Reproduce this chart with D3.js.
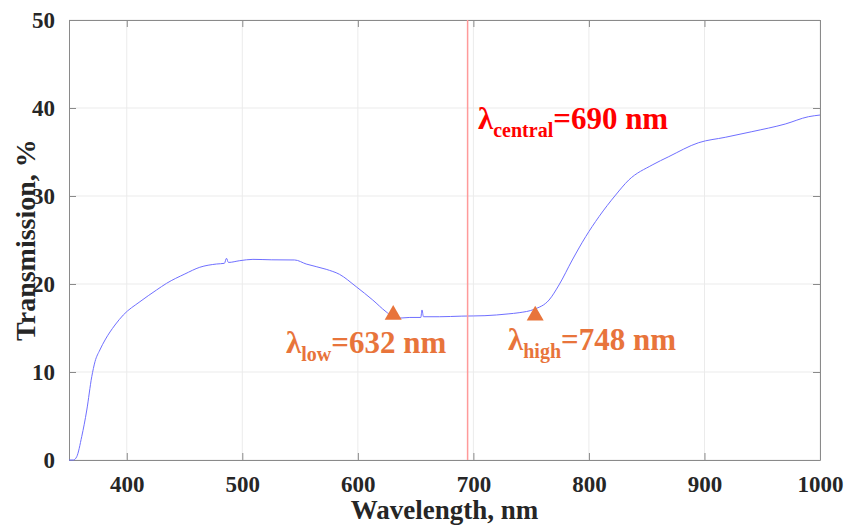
<!DOCTYPE html>
<html>
<head>
<meta charset="utf-8">
<script src="https://cdn.jsdelivr.net/npm/d3@7"></script>
<style>
  body { margin: 0; background: #fff; }
  svg { display: block; }
  text { font-family: 'Liberation Serif', 'Times New Roman', serif; font-weight: bold; }
</style>
</head>
<body>
<svg id="chart"></svg>
<script>
// spectrum
const wavelength = [350, 353.8, 356.7, 361, 365.4, 369.7, 372.5, 376.7, 381.2, 389.8, 397, 411.4, 425.8, 434.5,
  450.3, 463.2, 477.6, 484.5, 486.3, 488, 497.8, 509.2, 525, 545.3, 555.3, 572.6, 584.1, 598.5, 612.9, 624.4,
  633.1, 645, 654.5, 655.5, 656.8, 670.5, 690, 710, 730, 739.6, 752.5, 765.5, 774.1, 785.6, 797.2, 808.7,
  823.1, 834.5, 854.7, 869.1, 895, 918, 941, 969.9, 990, 1000];
const transmission = [0, 0, 0.375, 2.65, 5.68, 9.47, 11.17, 12.5, 13.64, 15.34, 16.48, 17.99, 19.32, 20.08,
  21.14, 21.9, 22.27, 22.35, 22.92, 22.45, 22.65, 22.8, 22.75, 22.73, 22.27, 21.67, 21.1, 19.7, 18.18, 16.85,
  16.1, 16.2, 16.2, 17.05, 16.28, 16.28, 16.35, 16.4, 16.6, 16.74, 17.12, 18.18, 19.89, 22.73, 25.38, 27.65,
  30.11, 31.82, 33.52, 34.47, 36.06, 36.67, 37.31, 38.18, 39.01, 39.2];

const xTicks = [400, 500, 600, 700, 800, 900, 1000];
const yTicks = [0, 10, 20, 30, 40, 50];

const centralLine = 695;
const markerWl = [630.6, 753.5];
const markerT = [16.5, 16.4];

const width = 846, height = 527;
const margin = { top: 20, right: 26, bottom: 67, left: 69 };

const svg = d3.select('#chart').attr('width', width).attr('height', height);

const x = d3.scaleLinear().domain([350, 1000]).range([margin.left, width - margin.right]);
const y = d3.scaleLinear().domain([0, 50]).range([height - margin.bottom, margin.top]);

// grid
svg.append('g')
    .selectAll('line.vgrid')
    .data(xTicks)
    .enter()
    .append('line')
        .attr('x1', d => x(d)).attr('x2', d => x(d))
        .attr('y1', y(0)).attr('y2', y(50))
        .attr('stroke', '#ebebeb').attr('stroke-width', 1);

svg.append('g')
    .selectAll('line.hgrid')
    .data(yTicks)
    .enter()
    .append('line')
        .attr('x1', x(350)).attr('x2', x(1000))
        .attr('y1', d => y(d)).attr('y2', d => y(d))
        .attr('stroke', '#ebebeb').attr('stroke-width', 1);

// axes (ticks pointing inward, box on all sides)
const axisColor = '#8a8a8a';
const styleAxis = g => {
    g.select('.domain').attr('stroke', axisColor);
    g.selectAll('.tick line').attr('stroke', axisColor);
    g.selectAll('.tick text')
        .attr('fill', '#262626')
        .style('font-size', '23px')
        .style('font-family', "'Liberation Serif', serif")
        .style('font-weight', 'bold');
};

svg.append('g')
    .attr('transform', `translate(0,${y(0)})`)
    .call(d3.axisBottom(x).tickValues(xTicks).tickFormat(d3.format('d')).tickSizeInner(-7).tickSizeOuter(0).tickPadding(16))
    .call(styleAxis);

svg.append('g')
    .attr('transform', `translate(0,${y(50)})`)
    .call(d3.axisTop(x).tickValues(xTicks).tickSizeInner(-7).tickSizeOuter(0).tickFormat(''))
    .call(styleAxis);

svg.append('g')
    .attr('transform', `translate(${x(350)},0)`)
    .call(d3.axisLeft(y).tickValues(yTicks).tickSizeInner(-7).tickSizeOuter(0).tickPadding(14))
    .call(styleAxis);

svg.append('g')
    .attr('transform', `translate(${x(1000)},0)`)
    .call(d3.axisRight(y).tickValues(yTicks).tickSizeInner(-7).tickSizeOuter(0).tickFormat(''))
    .call(styleAxis);

// spectrum
const pts = wavelength.map((w, i) => [w, transmission[i]]);
svg.append('path')
    .datum(pts)
    .attr('fill', 'none')
    .attr('stroke', '#6f6fff')
    .attr('stroke-width', 1)
    .attr('d', d3.line().curve(d3.curveMonotoneX).x(d => x(d[0])).y(d => y(d[1])));

// central wavelength line
svg.append('line')
    .attr('x1', x(centralLine)).attr('x2', x(centralLine))
    .attr('y1', y(0)).attr('y2', y(50))
    .attr('stroke', '#ff9a9a').attr('stroke-width', 1.5);

// band edge markers
const orange = '#e8743b';
svg.append('g')
    .selectAll('path.marker')
    .data(markerWl.map((w, i) => [w, markerT[i]]))
    .enter()
    .append('path')
        .attr('transform', d => `translate(${x(d[0])},${y(d[1])})`)
        .attr('d', d3.symbol().type(d3.symbolTriangle).size(125))
        .attr('fill', orange);

// labels
function label(px, py, sub, rest, color) {
    const t = svg.append('text').attr('x', px).attr('y', py).attr('fill', color).style('font-size', '31px');
    t.append('tspan').text('λ');
    t.append('tspan').attr('dy', 8).style('font-size', '20px').text(sub);
    t.append('tspan').attr('dy', -8).text(rest);
}
label(478, 129, 'central', '=690 nm', '#ff0000');
label(286, 353, 'low', '=632 nm', orange);
label(508, 350, 'high', '=748 nm', orange);

// axis titles
svg.append('text')
    .attr('x', (x(350) + x(1000)) / 2)
    .attr('y', 519)
    .attr('text-anchor', 'middle')
    .attr('fill', '#262626')
    .style('font-size', '27px')
    .text('Wavelength, nm');

svg.append('text')
    .attr('transform', `translate(35,${(y(0) + y(50)) / 2}) rotate(-90)`)
    .attr('text-anchor', 'middle')
    .attr('fill', '#262626')
    .style('font-size', '28px')
    .text('Transmission, %');
</script>
</body>
</html>
